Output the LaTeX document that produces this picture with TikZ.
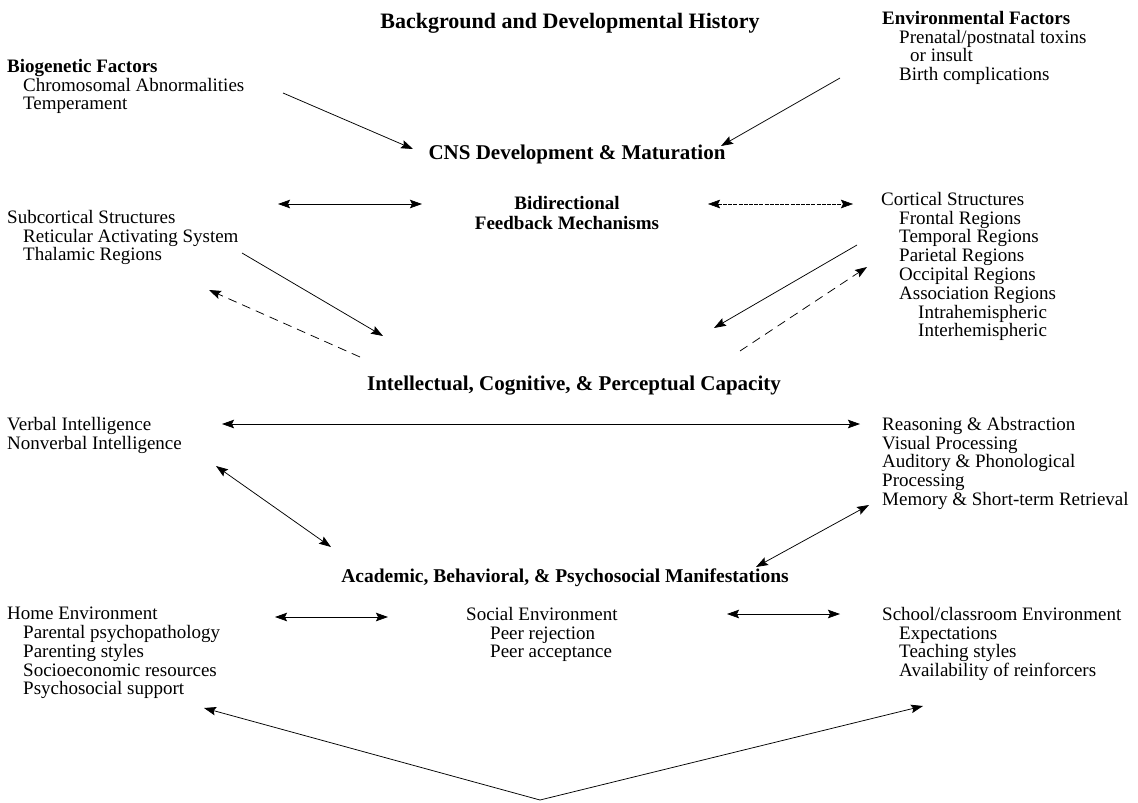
\documentclass[tikz,border=0pt]{standalone}
\usepackage{fontspec}
\setmainfont{Liberation Serif}
\usetikzlibrary{arrows.meta}
\begin{document}
\begin{tikzpicture}[x=1pt,y=-1pt,
  body/.style={inner sep=0pt, anchor=north west, align=left, font=\fontsize{19}{18.8}\selectfont},
  head/.style={inner sep=0pt, anchor=base, align=center, font=\fontsize{21}{21}\selectfont\bfseries},
  arr/.style={line width=0.75pt, -{Stealth[length=12pt,width=8.5pt,inset=2pt]}},
  darr/.style={line width=0.75pt, {Stealth[length=12pt,width=8.5pt,inset=2pt]}-{Stealth[length=12pt,width=8.5pt,inset=2pt]}},
  dsh/.style={dash pattern=on 9pt off 6pt},
  fine/.style={dash pattern=on 4pt off 1.2pt, line width=0.5pt},
]
\useasboundingbox (0,0) rectangle (1138,803);

% headings
\node[head, font=\fontsize{22}{22}\selectfont\bfseries] (title) at (570,28) {Background and Developmental History};
\node[head] (cns) at (577,159) {CNS Development \& Maturation};
\node[head, anchor=north, font=\fontsize{19}{20}\selectfont\bfseries] (bidir) at (567,196) {Bidirectional\\Feedback Mechanisms};
\node[head] (intel) at (574,390) {Intellectual, Cognitive, \& Perceptual Capacity};
\node[head, font=\fontsize{19.5}{20}\selectfont\bfseries] (acad) at (565,582) {Academic, Behavioral, \& Psychosocial Manifestations};

% text blocks
\node[body] (bio) at (7,59) {\textbf{Biogenetic Factors}\\
  \hspace*{16pt}Chromosomal Abnormalities\\
  \hspace*{16pt}Temperament};
\node[body] (env) at (882,11) {\textbf{Environmental Factors}\\
  \hspace*{17pt}Prenatal/postnatal toxins\\
  \hspace*{28pt}or insult\\
  \hspace*{17pt}Birth complications};
\node[body] (sub) at (7,210) {Subcortical Structures\\
  \hspace*{16pt}Reticular Activating System\\
  \hspace*{16pt}Thalamic Regions};
\node[body] (cort) at (881,192) {Cortical Structures\\
  \hspace*{18pt}Frontal Regions\\
  \hspace*{18pt}Temporal Regions\\
  \hspace*{18pt}Parietal Regions\\
  \hspace*{18pt}Occipital Regions\\
  \hspace*{18pt}Association Regions\\
  \hspace*{37pt}Intrahemispheric\\
  \hspace*{37pt}Interhemispheric};
\node[body] (verbal) at (7,417) {Verbal Intelligence\\Nonverbal Intelligence};
\node[body] (reas) at (882,417) {Reasoning \& Abstraction\\Visual Processing\\Auditory \& Phonological\\Processing\\Memory \& Short-term Retrieval};
\node[body] (home) at (7,607) {Home Environment\\
  \hspace*{16pt}Parental psychopathology\\
  \hspace*{16pt}Parenting styles\\
  \hspace*{16pt}Socioeconomic resources\\
  \hspace*{16pt}Psychosocial support};
\node[body] (social) at (466,607) {Social Environment\\
  \hspace*{24pt}Peer rejection\\
  \hspace*{24pt}Peer acceptance};
\node[body] (school) at (882,607) {School/classroom Environment\\
  \hspace*{17pt}Expectations\\
  \hspace*{17pt}Teaching styles\\
  \hspace*{17pt}Availability of reinforcers};

% connector end points
\coordinate (bioA) at (283,93);   \coordinate (cnsL) at (413,149);
\coordinate (envA) at (840,78);   \coordinate (cnsR) at (721,146);
\coordinate (subR) at (278,204);  \coordinate (bidL) at (422,204);
\coordinate (bidR) at (708,204);  \coordinate (cortL) at (853,204);
\coordinate (subA) at (242,253);  \coordinate (intL1) at (383,336);
\coordinate (intL2) at (360,357); \coordinate (subB) at (209,290);
\coordinate (cortA) at (857,245); \coordinate (intR1) at (714,328);
\coordinate (intR2) at (740,351); \coordinate (cortB) at (867,267);
\coordinate (verR) at (222,424);  \coordinate (reasL) at (860,424);
\coordinate (verB) at (216,466);  \coordinate (acadL) at (331,547);
\coordinate (reasB) at (869,505); \coordinate (acadR) at (756,567);
\coordinate (homeR) at (275,617); \coordinate (socL) at (388,617);
\coordinate (socR) at (727,614);  \coordinate (schL) at (840,614);
\coordinate (vtip) at (540,800);
\coordinate (homeB) at (204,708); \coordinate (schB) at (923,706);

% connectors
\draw[arr] (bioA) -- (cnsL);
\draw[arr] (envA) -- (cnsR);
\draw[darr] (subR) -- (bidL);
\draw[darr, fine] (bidR) -- (cortL);
\draw[arr] (subA) -- (intL1);
\draw[arr, dsh] (intL2) -- (subB);
\draw[arr] (cortA) -- (intR1);
\draw[arr, dsh] (intR2) -- (cortB);
\draw[darr] (verR) -- (reasL);
\draw[darr] (verB) -- (acadL);
\draw[darr] (reasB) -- (acadR);
\draw[darr] (homeR) -- (socL);
\draw[darr] (socR) -- (schL);
\draw[arr] (vtip) -- (homeB);
\draw[arr] (vtip) -- (schB);
\end{tikzpicture}
\end{document}
